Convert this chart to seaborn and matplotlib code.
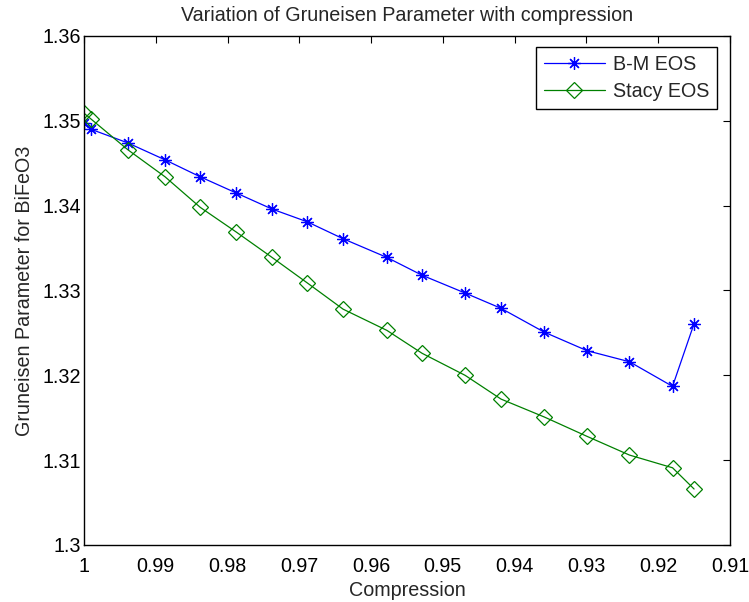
import matplotlib
matplotlib.use("Agg")
import matplotlib.pyplot as plt
import seaborn as sns
from matplotlib.ticker import FuncFormatter

sns.set_style("white")
plt.rcParams['font.family'] = ['Liberation Sans', 'DejaVu Sans']

# compression values (x)
compression = [1.0, 0.999, 0.9939, 0.9887, 0.9838, 0.9788, 0.9738, 0.9689,
               0.9639, 0.9578, 0.9529, 0.9469, 0.9419, 0.9359, 0.9299,
               0.9240, 0.9180, 0.9150]
bm_eos = [1.3497, 1.3490, 1.3474, 1.3454, 1.3434, 1.3415, 1.3396, 1.3381,
          1.3361, 1.3339, 1.3318, 1.3297, 1.3279, 1.3251, 1.3229, 1.3216,
          1.3187, 1.3261]
stacy_eos = [1.3509, 1.3502, 1.3466, 1.3434, 1.3398, 1.3369, 1.3339, 1.3309,
             1.3278, 1.3253, 1.3226, 1.3200, 1.3172, 1.3151, 1.3128, 1.3106,
             1.3091, 1.3066]

fs = 14.2

fig = plt.figure(figsize=(7.49, 6.02), dpi=100)
ax = fig.add_axes([0.1121, 0.0947, 0.8625, 0.8455])

sns.lineplot(x=compression, y=bm_eos, ax=ax, sort=False, color=(0, 0, 1),
             linewidth=0.9, marker=(8, 2, 0), markersize=9,
             markeredgewidth=0.9, markeredgecolor=(0, 0, 1), label='B-M EOS')
sns.lineplot(x=compression, y=stacy_eos, ax=ax, sort=False, color=(0, 0.5, 0),
             linewidth=0.9, marker='D', markersize=8.5, markeredgewidth=0.9,
             markerfacecolor='none', markeredgecolor=(0, 0.5, 0),
             label='Stacy EOS')

ax.set_xlim(1, 0.91)
ax.set_ylim(1.30, 1.36)
ax.set_xticks([1, 0.99, 0.98, 0.97, 0.96, 0.95, 0.94, 0.93, 0.92, 0.91])
ax.set_yticks([1.30, 1.31, 1.32, 1.33, 1.34, 1.35, 1.36])
fmt = FuncFormatter(lambda v, p: '%g' % round(v, 4))
ax.xaxis.set_major_formatter(fmt)
ax.yaxis.set_major_formatter(fmt)
ax.tick_params(direction='in', length=5, width=0.8, labelsize=fs,
               top=True, right=True, colors='black')
ax.tick_params(axis='x', pad=9)
ax.tick_params(axis='y', pad=2)

for s in ax.spines.values():
    s.set_visible(True)
    s.set_color('black')
    s.set_linewidth(1.0)

ax.set_title('Variation of Gruneisen Parameter with compression',
             fontsize=fs, pad=11)
ax.set_xlabel('Compression', fontsize=fs, labelpad=3)
ax.set_ylabel('Gruneisen Parameter for BiFeO3', fontsize=fs, labelpad=6)

leg = ax.legend(loc='upper right', bbox_to_anchor=(0.980, 0.978),
                borderaxespad=0, fontsize=fs, fancybox=False, framealpha=1,
                edgecolor='black', handlelength=3.1, handletextpad=0.4,
                borderpad=0.4, labelspacing=0.4)
leg.get_frame().set_linewidth(1.0)

fig.savefig('out.png', dpi=100)
